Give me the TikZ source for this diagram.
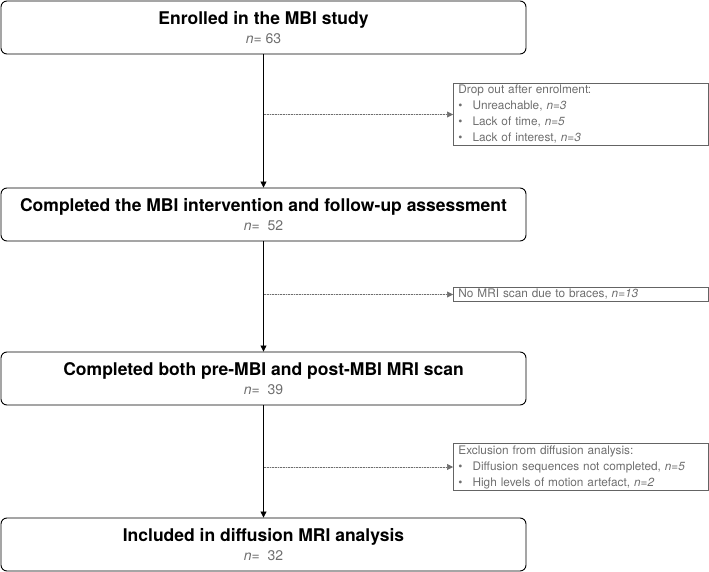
\documentclass[tikz,border=0pt]{standalone}
\usepackage{fontspec}
\setmainfont{TeX Gyre Heros}
\usetikzlibrary{arrows.meta, positioning}
\definecolor{lighttext}{RGB}{110, 110, 110}
\definecolor{sideframe}{RGB}{100, 100, 100}

\begin{document}
\begin{tikzpicture}[
    x=1pt, y=1pt,
    stage/.style={draw, line width=0.9pt, rounded corners=6pt, minimum width=525pt, minimum height=53pt, align=center, inner sep=2pt},
    exclusion/.style={draw=sideframe, line width=0.9pt, anchor=west, minimum width=255pt, text width=245pt, align=left, font=\fontsize{11.8}{16}\selectfont, text=lighttext, inner xsep=5pt, inner ysep=2pt},
    arrow/.style={-{Triangle[length=6pt, width=6pt]}, line width=0.8pt},
    droparrow/.style={-{Triangle[length=6pt, width=6pt]}, densely dotted, line width=0.6pt, draw=lighttext, fill=black}
]
    \useasboundingbox (0,0) rectangle (709,-572);

    % Main stages
    \node[stage] (enrolled) at (263.5,-27.5) {{\fontsize{17.5}{19}\selectfont\bfseries Enrolled in the MBI study}\\[5pt]{\fontsize{14}{16}\selectfont\color{lighttext}\textit{n}= 63}};
    \node[stage] (completed) at (263.5,-214.5) {{\fontsize{17.5}{19}\selectfont\bfseries Completed the MBI intervention and follow-up assessment}\\[5pt]{\fontsize{14}{16}\selectfont\color{lighttext}\textit{n}=\ \ 52}};
    \node[stage] (scanned) at (263.5,-378.5) {{\fontsize{17.5}{19}\selectfont\bfseries Completed both pre-MBI and post-MBI MRI scan}\\[5pt]{\fontsize{14}{16}\selectfont\color{lighttext}\textit{n}=\ \ 39}};
    \node[stage] (included) at (263.5,-544.5) {{\fontsize{17.5}{19}\selectfont\bfseries Included in diffusion MRI analysis}\\[5pt]{\fontsize{14}{16}\selectfont\color{lighttext}\textit{n}=\ \ 32}};

    % Exclusions
    \node[exclusion] (dropout) at (453,-114.5) {Drop out after enrolment:\\
        \textbullet\hspace{10pt}Unreachable, \textit{n=3}\\
        \textbullet\hspace{10pt}Lack of time, \textit{n=5}\\
        \textbullet\hspace{10pt}Lack of interest, \textit{n=3}};
    \node[exclusion] (braces) at (453,-294.5) {No MRI scan due to braces, \textit{n=13}};
    \node[exclusion] (diffusion) at (453,-467) {Exclusion from diffusion analysis:\\
        \textbullet\hspace{10pt}Diffusion sequences not completed, \textit{n=5}\\
        \textbullet\hspace{10pt}High levels of motion artefact, \textit{n=2}};

    % Branch points
    \coordinate (split1) at (enrolled.south |- dropout.west);
    \coordinate (split2) at (completed.south |- braces.west);
    \coordinate (split3) at (scanned.south |- diffusion.west);

    % Flow
    \draw[arrow] (enrolled) -- (completed);
    \draw[arrow] (completed) -- (scanned);
    \draw[arrow] (scanned) -- (included);
    \draw[droparrow] (split1) -- (dropout);
    \draw[droparrow] (split2) -- (braces);
    \draw[droparrow] (split3) -- (diffusion);
\end{tikzpicture}
\end{document}
